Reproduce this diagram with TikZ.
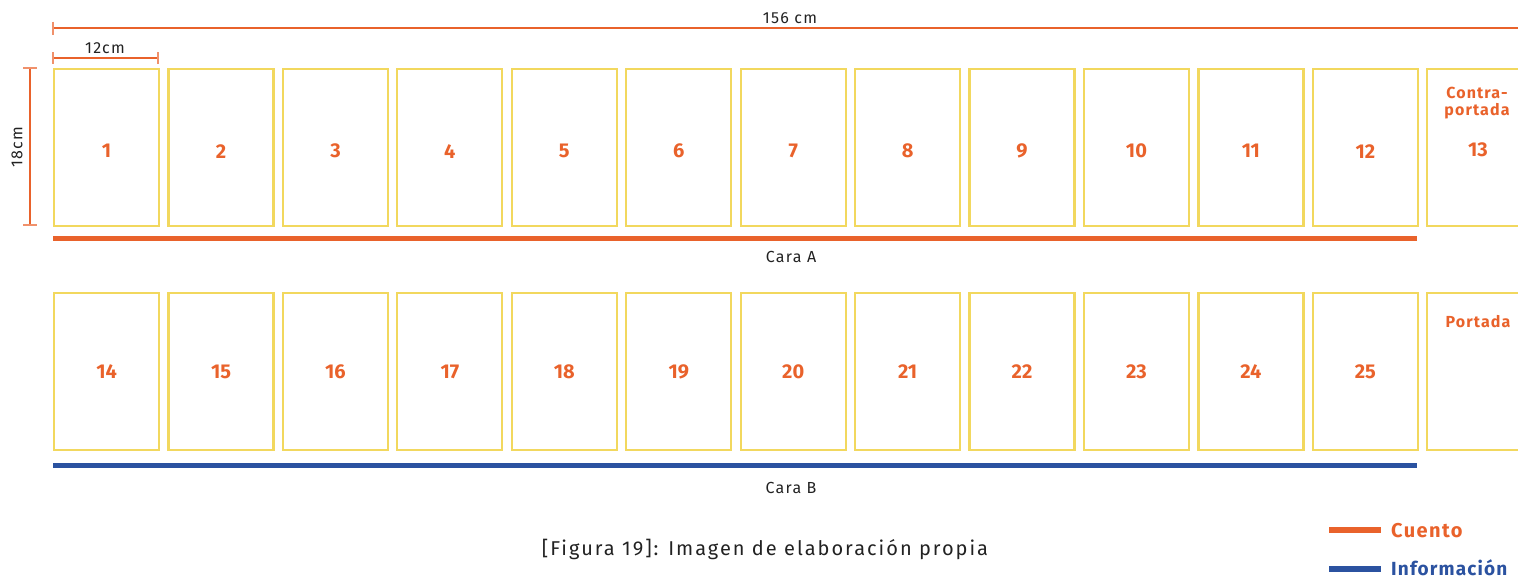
\documentclass[tikz,border=0pt]{standalone}
\usepackage{fontspec}
\setmainfont{Fira Sans}
\definecolor{orng}{HTML}{E9622B}
\definecolor{ylw}{HTML}{F2D85E}
\definecolor{blu}{HTML}{2B52A0}
\definecolor{txt}{HTML}{222222}
\begin{document}
\begin{tikzpicture}[x=1pt,y=-1pt,
  page/.style={draw=ylw,line width=2.2pt,minimum width=105pt,minimum height=157pt,inner sep=0pt,anchor=north west},
  num/.style={text=orng,font=\fontsize{20}{22}\selectfont\bfseries},
  lbl/.style={text=orng,font=\fontsize{16}{18}\selectfont\bfseries\addfontfeatures{LetterSpace=7}},
  dim/.style={draw=orng,line width=1.3pt},
  dimtick/.style={draw=orng!70,line width=1.3pt},
  captxt/.style={text=txt,font=\fontsize{16}{18}\selectfont\addfontfeatures{LetterSpace=8}},
  legtxt/.style={font=\fontsize{20}{22}\selectfont\bfseries\addfontfeatures{LetterSpace=7},anchor=base west,inner sep=0pt,text depth=0pt},
  bar/.style={line width=5pt}]
\useasboundingbox (0,0) rectangle (1518,579);
% pages
\foreach \i in {1,...,12}{
  \pgfmathsetmacro{\xx}{53+114.43*(\i-1)}
  \pgfmathtruncatemacro{\j}{\i+13}
  \node[page] (a\i) at (\xx,68) {};
  \node[page] (b\i) at (\xx,292) {};
  \node[num] (na\i) at ([yshift=-3.5pt]a\i.center) {\i};
  \node[num] (nb\i) at (b\i.center) {\j};
}
\node[page,minimum width=110pt] (a13) at (1426,68) {};
\node[page,minimum width=110pt] (b13) at (1426,292) {};
\node[num] (na13) at (1478,150) {13};
\node[lbl,align=center,inner sep=0pt] (ct) at (1477,103) {Contra-\\[-1pt]portada};
\node[lbl] (pt) at (1478,322) {Portada};
% dimensions
\coordinate (t0) at (53,28);
\coordinate (t1) at (1530,28);
\draw[dim] (t0) -- (t1);
\draw[dimtick] (53,21.5) -- (53,35);
\node[captxt] (l156) at (790,18) {156 cm};
\coordinate (w0) at (53,58);
\coordinate (w1) at (158,58);
\draw[dim] (w0) -- (w1);
\draw[dimtick] (53,52) -- (53,64) (158,52) -- (158,64);
\node[captxt] (l12) at (105,48.5) {12cm};
\coordinate (h0) at (30,68);
\coordinate (h1) at (30,225);
\draw[dim] (h0) -- (h1);
\draw[dimtick] (23,68) -- (37,68) (23,225) -- (37,225);
\node[captxt,rotate=90] (l18) at (17,147) {18cm};
% bars
\coordinate (ba0) at (53,238.5);
\coordinate (ba1) at (1416.5,238.5);
\draw[bar,orng] (ba0) -- (ba1);
\node[captxt] (caraA) at (791,257) {Cara A};
\coordinate (bb0) at (53,465.5);
\coordinate (bb1) at (1416.5,465.5);
\draw[bar,blu] (bb0) -- (bb1);
\node[captxt] (caraB) at (791,488) {Cara B};
% caption
\node[captxt,font=\fontsize{20}{22}\selectfont\addfontfeatures{LetterSpace=10}] (fig) at (765,549) {[Figura 19]: Imagen de elaboración propia};
% legend
\coordinate (lc0) at (1329,530);
\coordinate (lc1) at (1381,530);
\draw[bar,orng,line width=5.5pt] (lc0) -- (lc1);
\node[legtxt,text=orng] (cu) at (1391,537) {Cuento};
\coordinate (li0) at (1329,569);
\coordinate (li1) at (1381,569);
\draw[bar,blu,line width=5.5pt] (li0) -- (li1);
\node[legtxt,text=blu,font=\fontsize{19}{21}\selectfont\bfseries\addfontfeatures{LetterSpace=6}] (inf) at (1391,575) {Información};
\end{tikzpicture}
\end{document}
